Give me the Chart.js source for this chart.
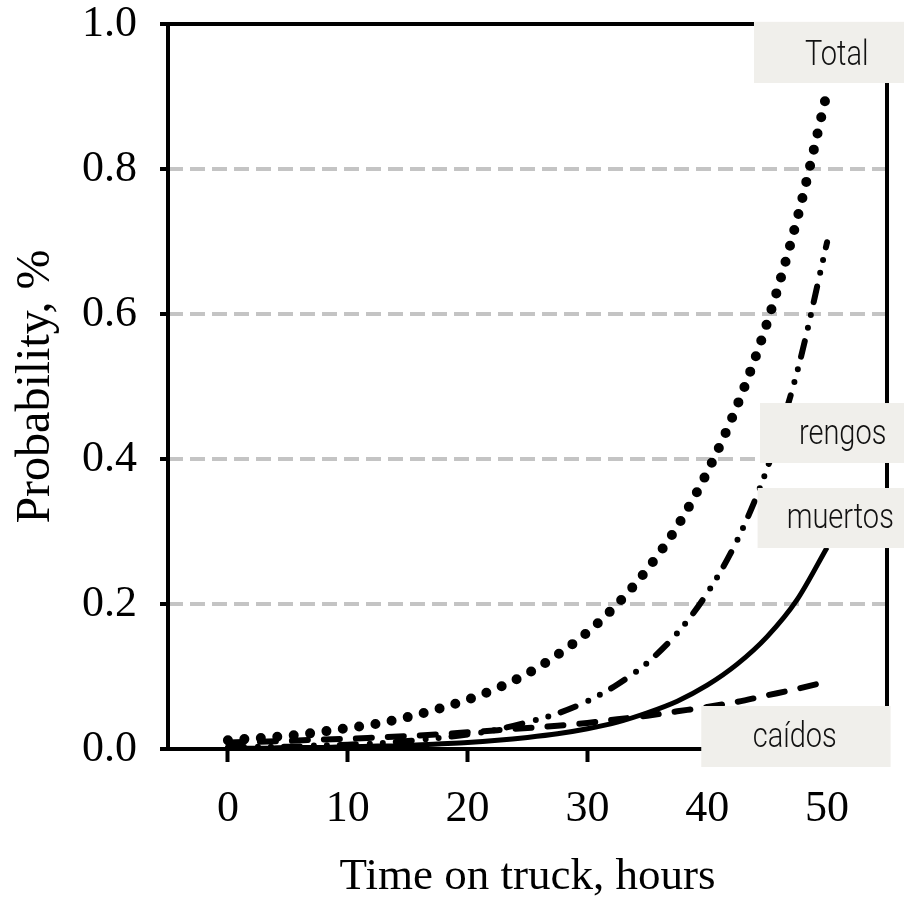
<!DOCTYPE html>
<html><head><meta charset="utf-8">
<script src="https://cdn.jsdelivr.net/npm/chart.js@4.4.1/dist/chart.umd.min.js"></script>
<style>html,body{margin:0;padding:0;background:#fff;}#wrap{width:904px;height:900px;}</style>
</head><body><div id="wrap"><canvas id="c" width="904" height="900"></canvas></div>
<script>
// ---- data ----
const hours   = [0,2.5,5,7.5,10,12.5,15,17.5,20,22.5,25,27.5,30,32.5,35,37.5,40,42.5,45,47.5,50];
const total   = [0.012,0.015,0.018,0.023,0.029,0.035,0.044,0.055,0.068,0.084,0.104,0.130,0.161,0.200,0.248,0.307,0.382,0.474,0.588,0.731,0.906];
const rengos  = [0.002,0.003,0.003,0.005,0.006,0.008,0.011,0.015,0.020,0.027,0.037,0.049,0.066,0.089,0.119,0.160,0.215,0.288,0.387,0.520,0.699];
const muertos = [0.001,0.001,0.002,0.002,0.003,0.004,0.005,0.007,0.009,0.012,0.016,0.021,0.028,0.037,0.050,0.066,0.088,0.117,0.155,0.206,0.278];
const caidos  = [0.009,0.010,0.011,0.013,0.014,0.016,0.018,0.020,0.023,0.026,0.029,0.032,0.036,0.041,0.046,0.052,0.058,0.065,0.074,0.083,0.093];
const xTicks  = [0,10,20,30,40,50];
const yTicks  = [0,0.2,0.4,0.6,0.8,1.0];
const seriesNames = ['Total','rengos','muertos','caídos'];

// label boxes, in data units
const labelBoxes = [
  {text:seriesNames[0], x0:43.9, x1:57,   y0:1.003, y1:0.9186, tx:50.8, ty:0.9434},
  {text:seriesNames[1], x0:44.4, x1:57,   y0:0.4772, y1:0.3945, tx:51.3, ty:0.4207},
  {text:seriesNames[2], x0:44.2, x1:57,   y0:0.360, y1:0.2772, tx:51.1, ty:0.3048},
  {text:seriesNames[3], x0:39.5, x1:55.3, y0:0.0593, y1:-0.0248, tx:47.3, ty:0.0028}
];

const pts = arr => hours.map((h,i)=>({x:h,y:arr[i]}));

const framePlugin = {
  id:'frame',
  beforeDatasetsDraw(chart){
    const {ctx, chartArea:a} = chart;
    ctx.save();
    ctx.strokeStyle='#000'; ctx.lineWidth=4; ctx.setLineDash([]);
    ctx.strokeRect(a.left,a.top,a.right-a.left,a.bottom-a.top);
    ctx.restore();
  }
};
const boxPlugin = {
  id:'boxes',
  afterDraw(chart){
    const {ctx} = chart; const xs=chart.scales.x, ys=chart.scales.y;
    ctx.save();
    labelBoxes.forEach(b=>{
      const l=xs.getPixelForValue(b.x0), r=xs.getPixelForValue(b.x1);
      const t=ys.getPixelForValue(b.y0), bo=ys.getPixelForValue(b.y1);
      ctx.fillStyle='#f0efeb';
      ctx.fillRect(l,t,r-l,bo-t);
      const tx=xs.getPixelForValue(b.tx), ty=ys.getPixelForValue(b.ty);
      ctx.save();
      ctx.translate(tx,ty); ctx.scale(1,1.2);
      ctx.fillStyle='#111';
      ctx.font='300 29px Roboto, "Liberation Sans", sans-serif';
      ctx.textAlign='center'; ctx.textBaseline='alphabetic';
      ctx.fillText(b.text,0,0);
      ctx.restore();
    });
    ctx.restore();
  }
};

new Chart(document.getElementById('c'), {
  type:'line',
  data:{ datasets:[
    {label:seriesNames[0], data:pts(total), borderColor:'#000', borderWidth:10, borderDash:[0,16.5], borderCapStyle:'round', pointRadius:0, fill:false, cubicInterpolationMode:'monotone'},
    {label:seriesNames[1], data:pts(rengos), borderColor:'#000', borderWidth:6, borderDash:[16,14,0,13,0,13], borderCapStyle:'round', pointRadius:0, fill:false, cubicInterpolationMode:'monotone'},
    {label:seriesNames[2], data:pts(muertos), borderColor:'#000', borderWidth:5, pointRadius:0, fill:false, cubicInterpolationMode:'monotone'},
    {label:seriesNames[3], data:pts(caidos), borderColor:'#000', borderWidth:6, borderDash:[16,16], borderCapStyle:'round', pointRadius:0, fill:false, cubicInterpolationMode:'monotone'}
  ]},
  options:{
    responsive:false, animation:false,
    layout:{padding:{left:0,top:24,right:17,bottom:0}},
    plugins:{legend:{display:false}, tooltip:{enabled:false}},
    scales:{
      x:{type:'linear', min:-5, max:55,
        afterBuildTicks:s=>{s.ticks=xTicks.map(v=>({value:v}));},
        afterFit:s=>{s.height=151; s.paddingLeft=0; s.paddingRight=0;},
        ticks:{color:'#000', font:{family:'"Liberation Serif", serif', size:44, lineHeight:1}, padding:25, maxRotation:0},
        grid:{drawOnChartArea:false, drawTicks:true, tickLength:13, tickColor:'#000', tickWidth:4},
        border:{display:false},
        title:{display:true, text:'Time on truck, hours', color:'#000', font:{family:'"Liberation Serif", serif', size:45, lineHeight:1}, padding:{top:0,bottom:0}}
      },
      y:{type:'linear', min:0, max:1,
        afterBuildTicks:s=>{s.ticks=yTicks.map(v=>({value:v}));},
        afterFit:s=>{s.width=168; s.paddingTop=0; s.paddingBottom=0;},
        ticks:{color:'#000', font:{family:'"Liberation Serif", serif', size:44, lineHeight:1}, padding:23, callback:v=>v.toFixed(1)},
        grid:{drawOnChartArea:true, drawTicks:true, tickLength:8, tickColor:'#000', tickWidth:4, tickBorderDash:[],
          lineWidth:4, color:c=>(c.tick && (Math.abs(c.tick.value)<1e-9 || Math.abs(c.tick.value-1)<1e-9)) ? 'rgba(0,0,0,0)' : '#c4c4c4'},
        border:{display:false, dash:[15,7]},
        title:{display:true, text:'Probability, %', color:'#000', font:{family:'"Liberation Serif", serif', size:48, lineHeight:1}, padding:{top:12,bottom:0}}
      }
    }
  },
  plugins:[framePlugin, boxPlugin]
});
</script></body></html>
